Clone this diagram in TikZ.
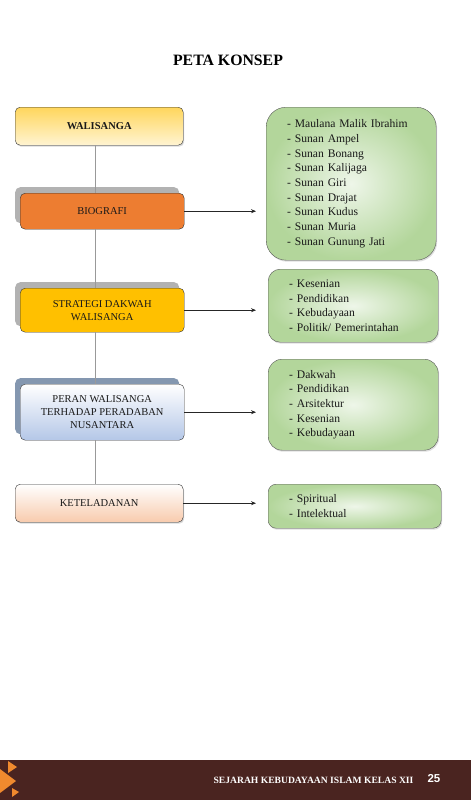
\documentclass[tikz,border=0pt]{standalone}
\usepackage{fontspec}
\setmainfont{Liberation Serif}
\newfontfamily\numfont{Liberation Sans}
\usepackage{tikz}
\usetikzlibrary{arrows,arrows.meta,shapes,shadows}
\usetikzlibrary{positioning}
\definecolor{walitop}{HTML}{FFD65C}
\definecolor{walibot}{HTML}{FFF4D2}
\definecolor{biofill}{HTML}{ED7D31}
\definecolor{stratfill}{HTML}{FFC000}
\definecolor{peranbot}{HTML}{B4C7E7}
\definecolor{peranshade}{HTML}{8497B0}
\definecolor{telbot}{HTML}{F8CBAD}
\definecolor{greendark}{HTML}{B3D69B}
\definecolor{greenlight}{HTML}{EEF6E9}
\definecolor{footbrown}{HTML}{4A2420}
\definecolor{footorange}{HTML}{F08A2E}

\begin{document}
\begin{tikzpicture}[x=1pt, y=-1pt, font=\fontsize{10.5}{13}\selectfont]
\tikzstyle{topic} = [rectangle, rounded corners=5pt, draw=black!80, anchor=north west, align=center, text=black!90]
\tikzstyle{backshadow} = [general shadow={shadow xshift=-5pt, shadow yshift=6pt, fill=black!30}]
\tikzstyle{list} = [rectangle, rounded corners=12pt, draw=black!65, anchor=north west, align=left, text width=128pt, inner xsep=21pt, text=black!90, font=\fontsize{11.6}{14.7}\selectfont, inner color=greenlight, outer color=greendark, drop shadow={shadow xshift=1pt, shadow yshift=-1.5pt, fill=black!25}]
\tikzstyle{arr} = [-{Stealth[length=5pt, width=4pt]}, draw=black!85, line width=0.7pt]
\tikzstyle{spine} = [draw=black!40, line width=0.6pt]
\useasboundingbox (0,0) rectangle (471,800);

% title
\node (title) at (228,60) {\fontsize{15.8}{17}\selectfont\bfseries PETA KONSEP};

% left column
\node (wali) [topic, minimum width=168pt, minimum height=38pt, top color=walitop, bottom color=walibot, drop shadow={shadow xshift=1pt, shadow yshift=-1.5pt, fill=black!30}] at (15,107) {\bfseries WALISANGA};
\node (bio) [topic, backshadow, minimum width=164pt, minimum height=36pt, fill=biofill] at (20,193) {BIOGRAFI};
\node (strat) [topic, backshadow, minimum width=164pt, minimum height=44pt, fill=stratfill] at (20,288) {STRATEGI DAKWAH\\WALISANGA};
\node (peran) [topic, general shadow={shadow xshift=-5pt, shadow yshift=6pt, fill=peranshade}, minimum width=164pt, minimum height=56pt, top color=white, bottom color=peranbot] at (20,384) {PERAN WALISANGA\\TERHADAP PERADABAN\\NUSANTARA};
\node (tel) [topic, minimum width=168pt, minimum height=38pt, top color=white, bottom color=telbot, drop shadow={shadow xshift=1pt, shadow yshift=-1.5pt, fill=black!30}] at (15,484) {KETELADANAN};

% right column
\node (tokoh) [list, minimum height=153pt, rounded corners=20pt] at (266,107) {- Maulana Malik Ibrahim\\- Sunan Ampel\\- Sunan Bonang\\- Sunan Kalijaga\\- Sunan Giri\\- Sunan Drajat\\- Sunan Kudus\\- Sunan Muria\\- Sunan Gunung Jati};
\node (strategi) [list, minimum height=73pt] at (268,269) {- Kesenian\\- Pendidikan\\- Kebudayaan\\- Politik/ Pemerintahan};
\node (bidang) [list, minimum height=91pt, rounded corners=14pt] at (268,359) {- Dakwah\\- Pendidikan\\- Arsitektur\\- Kesenian\\- Kebudayaan};
\node (teladan) [list, minimum height=44pt, text width=131pt, rounded corners=8pt] at (268,484) {- Spiritual\\- Intelektual};

% connectors
\coordinate (axis) at (95,0);
\coordinate (tips) at (256,0);
\draw [spine] (wali.south -| axis) -- (bio.north -| axis);
\draw [spine] (bio.south -| axis) -- (strat.north -| axis);
\draw [spine] (strat.south -| axis) -- (peran.north -| axis);
\draw [spine] (peran.south -| axis) -- (tel.north -| axis);
\draw [arr] (bio.east) -- (bio.east -| tips);
\draw [arr] (strat.east) -- (strat.east -| tips);
\draw [arr] (peran.east) -- (peran.east -| tips);
\draw [arr] (tel.east) -- (tel.east -| tips);

% footer
\fill [footbrown] (0,760) rectangle (471,800);
\fill [footorange] (0,769) -- (16,781) -- (0,793) -- cycle;
\fill [footorange] (8,761) -- (17,767) -- (8,773) -- cycle;
\fill [footorange] (12,788) -- (19,792) -- (12,797) -- cycle;
\node (book) [anchor=east, text=white, font=\fontsize{9.6}{10}\selectfont\bfseries] at (417,780) {SEJARAH KEBUDAYAAN ISLAM KELAS XII};
\node (page) [anchor=west, text=white, font=\numfont\fontsize{11.5}{12}\selectfont\bfseries] at (424,779) {25};
\end{tikzpicture}
\end{document}
